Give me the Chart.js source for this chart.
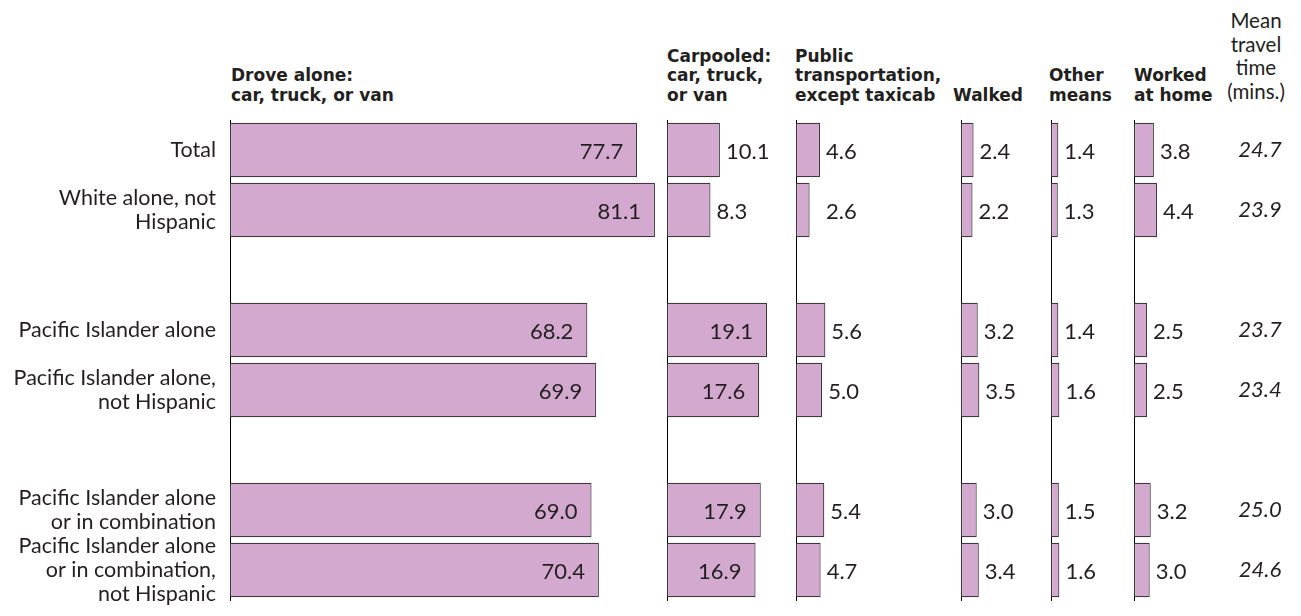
<!DOCTYPE html>
<html><head><meta charset="utf-8">
<script src="https://cdn.jsdelivr.net/npm/chart.js@4.4.1/dist/chart.umd.min.js"></script>
<style>
html,body{margin:0;padding:0;background:#fff;}
body{width:1301px;height:616px;position:relative;overflow:hidden;color:#231f20;}
canvas{position:absolute;top:110px;}
.hd{position:absolute;bottom:511px;font-family:"DejaVu Sans",sans-serif;font-weight:bold;font-size:17px;line-height:19.5px;white-space:nowrap;color:#231f20;}
.mh{position:absolute;bottom:513px;left:1196px;width:120px;font-family:Lato,sans-serif;font-size:20.5px;line-height:23.5px;text-align:center;white-space:nowrap;color:#231f20;}
</style></head><body>
<div class="hd" style="left:231px">Drove alone:<br>car, truck, or van</div>
<div class="hd" style="left:667px">Carpooled:<br>car, truck,<br>or van</div>
<div class="hd" style="left:795px">Public<br>transportation,<br>except taxicab</div>
<div class="hd" style="left:953px">Walked</div>
<div class="hd" style="left:1049px">Other<br>means</div>
<div class="hd" style="left:1134px">Worked<br>at home</div>
<div class="mh">Mean<br>travel<br>time<br>(mins.)</div>
<canvas id="c1" width="667" height="503" style="left:0px"></canvas>
<canvas id="c2" width="139" height="503" style="left:657px"></canvas>
<canvas id="c3" width="175" height="503" style="left:786px"></canvas>
<canvas id="c4" width="100" height="503" style="left:951px"></canvas>
<canvas id="c5" width="93" height="503" style="left:1041px"></canvas>
<canvas id="c6" width="177" height="503" style="left:1124px"></canvas>
<script>
const categories = [
  ["Total"],
  ["White alone, not", "Hispanic"],
  "",
  ["Pacific Islander alone"],
  ["Pacific Islander alone,", "not Hispanic"],
  "",
  ["Pacific Islander alone", "or in combination"],
  ["Pacific Islander alone", "or in combination,", "not Hispanic"]
];
const droveAlone     = [77.7, 81.1, null, 68.2, 69.9, null, 69.0, 70.4];
const carpooled      = [10.1,  8.3, null, 19.1, 17.6, null, 17.9, 16.9];
const publicTransit  = [ 4.6,  2.6, null,  5.6,  5.0, null,  5.4,  4.7];
const walked         = [ 2.4,  2.2, null,  3.2,  3.5, null,  3.0,  3.4];
const otherMeans     = [ 1.4,  1.3, null,  1.4,  1.6, null,  1.5,  1.6];
const workedAtHome   = [ 3.8,  4.4, null,  2.5,  2.5, null,  3.2,  3.0];
const meanTravelTime = [24.7, 23.9, null, 23.7, 23.4, null, 25.0, 24.6];

const FILL = '#d3a9cf';
const EDGE = '#3d3a3c';
const TEXT = '#231f20';
const PX_PER_UNIT = 5.24;

const valuePlugin = {
  id: 'vals',
  afterDatasetsDraw(chart, args, opts) {
    const ctx = chart.ctx;
    const meta = chart.getDatasetMeta(0);
    const vals = chart.data.datasets[0].data;
    const x0 = chart.scales.x.getPixelForValue(0);
    ctx.save();
    ctx.font = '22px Lato';
    ctx.fillStyle = TEXT;
    ctx.textBaseline = 'middle';
    meta.data.forEach((bar, i) => {
      const v = vals[i];
      if (v == null) return;
      const t = v.toFixed(1);
      if (v >= opts.insideMin) {
        ctx.textAlign = 'right';
        ctx.fillText(t, bar.x - 14, bar.y + 2);
      } else {
        ctx.textAlign = 'left';
        ctx.fillText(t, Math.max(bar.x + 6, x0 + opts.minOff), bar.y + 2);
      }
    });
    if (opts.mean) {
      ctx.font = 'italic 22px Lato';
      ctx.textAlign = 'center';
      meta.data.forEach((bar, i) => {
        const m = meanTravelTime[i];
        if (m == null) return;
        ctx.fillText(m.toFixed(1), x0 + opts.meanOffset, bar.y);
      });
    }
    ctx.restore();
  }
};

function panel(id, values, padL, yWidth, showLabels, vopts) {
  const el = document.getElementById(id);
  const areaW = el.width - padL - yWidth;
  new Chart(el, {
    type: 'bar',
    data: {
      labels: categories,
      datasets: [{
        data: values,
        backgroundColor: FILL,
        borderColor: EDGE,
        borderWidth: 1.2,
        borderSkipped: false,
        barPercentage: 0.91,
        categoryPercentage: 1
      }]
    },
    options: {
      indexAxis: 'y',
      responsive: false,
      animation: false,
      events: [],
      layout: { padding: { left: padL, right: 0, top: 10, bottom: 13 } },
      plugins: { legend: { display: false }, tooltip: { enabled: false }, vals: vopts },
      scales: {
        x: { display: false, min: 0, max: areaW / PX_PER_UNIT },
        y: {
          display: true,
          grid: { display: false, drawTicks: false },
          border: { display: true, color: '#000', width: 1 },
          ticks: {
            display: showLabels,
            padding: 14,
            color: TEXT,
            font: { family: 'Lato', size: 21.5, lineHeight: 1.1 },
            autoSkip: false
          },
          afterFit: s => {
            s.width = yWidth;
            s.paddingTop = 0; s.paddingBottom = 0;
            s.paddingLeft = 0; s.paddingRight = 0;
          }
        }
      }
    },
    plugins: [valuePlugin]
  });
}

panel('c1', droveAlone,    0, 230, true,  { insideMin: 0,   minOff: 0 });
panel('c2', carpooled,     10, 0,  false, { insideMin: 15,  minOff: 0 });
panel('c3', publicTransit, 10, 0,  false, { insideMin: 1e9, minOff: 30 });
panel('c4', walked,        10, 0,  false, { insideMin: 1e9, minOff: 0 });
panel('c5', otherMeans,    10, 0,  false, { insideMin: 1e9, minOff: 0 });
panel('c6', workedAtHome,  10, 0,  false, { insideMin: 1e9, minOff: 0, mean: true, meanOffset: 126 });
</script>
</body></html>
